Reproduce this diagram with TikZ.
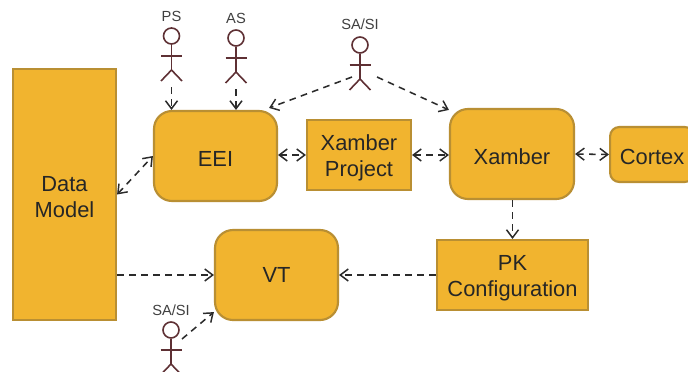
\documentclass[tikz,border=0pt]{standalone}
\usepackage{fontspec}
\setmainfont{Liberation Sans}
\usetikzlibrary{arrows.meta,calc}
\definecolor{boxfill}{HTML}{F1B42F}
\definecolor{boxedge}{HTML}{B98F33}
\definecolor{actoredge}{HTML}{5E3034}
\definecolor{labelgray}{HTML}{404040}
\definecolor{linegray}{HTML}{2B2B2B}
\newcommand{\dropstrut}{\rule{0pt}{15.5pt}}
\tikzset{
  x=0.75pt,y=-0.75pt,
  >={Straight Barb[length=6pt,width=9pt,line width=1.1pt]},
  sqbox/.style={draw=boxedge,line width=1.6pt,fill=boxfill,inner sep=0pt,align=center,font=\fontsize{16.4}{19.5}\selectfont,text=black!85},
  rbox/.style={sqbox,rounded corners=13.5pt},
  conn/.style={draw=linegray,line width=1.15pt,dash pattern=on 5pt off 4pt,->},
  biconn/.style={draw=linegray,line width=1.15pt,dash pattern=on 5pt off 4pt,<->},
  actorline/.style={draw=actoredge,line width=1.2pt},
  actorhead/.style={circle,actorline,minimum size=12pt,inner sep=0pt},
  actorlabel/.style={text=labelgray,font=\fontsize{11}{13}\selectfont,inner sep=0pt}
}
\newcommand{\labps}{PS}
\newcommand{\labas}{AS}
\newcommand{\labsa}{SA/SI}
\newcommand{\labsb}{SA/SI}
% name, x, head y, label y
\newcommand{\stickman}[4]{%
  \node[actorlabel] (#1-label) at (#2,#4) {\csname lab#1\endcsname};
  \node[actorhead] (#1-head) at (#2,#3) {};
  \coordinate (#1-hip) at (#2,#3+34);
  \coordinate (#1-foot) at (#2,#3+48);
  \draw[actorline] (#1-head.south) -- (#1-hip);
  \draw[actorline] ($(#2,#3+20)+(-10.5,0)$) -- ($(#2,#3+20)+(10.5,0)$);
  \draw[actorline] ($(#1-hip)+(-10.5,11)$) -- (#1-hip) -- ($(#1-hip)+(10.5,11)$);
}
\begin{document}
\begin{tikzpicture}
\useasboundingbox (0,0) rectangle (688,371);
\clip (0,0) rectangle (688,371);
\fill[white] (0,0) rectangle (688,371);
\node[sqbox,minimum width=77.25pt,minimum height=188.25pt] (data) at (64.5,194.5) {\dropstrut Data\\Model};
\node[rbox,minimum width=92.25pt,minimum height=67.5pt] (eei) at (215.5,156) {\dropstrut EEI};
\node[sqbox,minimum width=78pt,minimum height=52.5pt] (proj) at (359,155) {\dropstrut Xamber\\Project};
\node[rbox,minimum width=93pt,minimum height=67.5pt] (xam) at (512,154) {\dropstrut Xamber};
\node[rbox,rounded corners=7pt,minimum width=63pt,minimum height=41.25pt,anchor=west] (ctx) at (609,154.5) {\dropstrut Cortex};
\node[rbox,minimum width=92.25pt,minimum height=67.5pt] (vt) at (276.5,275) {VT};
\node[sqbox,minimum width=113.25pt,minimum height=52.5pt] (pk) at (512.5,275) {\dropstrut PK\\Configuration};
\stickman{ps}{171.5}{36}{16}
\stickman{as}{236}{38}{18}
\stickman{sa}{360}{45}{24}
\stickman{sb}{171}{330}{310}
\draw[conn] (ps-foot)++(0,3) -- (ps-foot |- eei.north);
\draw[conn] (as-foot)++(0,3) -- (as-foot |- eei.north);
\draw[conn] ($(sa-hip)+(-8,-2)$) -- ($(eei.north east)+(-9,-2)$);
\draw[conn] ($(sa-hip)+(17,-2)$) -- ($(xam.north west)+(0,2)$);
\draw[biconn] (eei.east |- proj.west) -- (proj.west);
\draw[biconn] (proj.east) -- (xam.west |- proj.east);
\draw[biconn] (xam.east) -- (ctx.west);
\draw[biconn] (data.east) -- (eei.west);
\draw[conn] (data.east |- vt.west) -- (vt.west);
\draw[conn] (pk.west) -- (vt.east |- pk.west);
\draw[conn] (xam.south -| pk.north) -- (pk.north);
\draw[conn] ($(sb-head)+(11,9)$) -- ($(vt.south west)+(0,-9)$);
\end{tikzpicture}
\end{document}
